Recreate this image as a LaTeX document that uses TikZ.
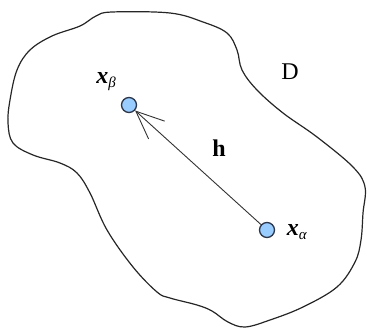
\documentclass[tikz,border=0pt]{standalone}
\usepackage{fontspec}
\setmainfont{Liberation Serif}
\usetikzlibrary{arrows.meta}
\definecolor{ptfill}{RGB}{153,204,255}
\definecolor{ptdraw}{RGB}{45,55,75}
\tikzset{
  pt/.style={circle, draw=ptdraw, fill=ptfill, line width=1.3pt, minimum size=15pt, inner sep=0pt},
  lbl/.style={inner sep=0pt, font=\fontsize{24}{28}\selectfont},
  blob/.style={draw=black!85, line width=1.2pt},
  vec/.style={draw=black!80, line width=0.9pt, -{Straight Barb[length=28pt,width=24pt]}}
}
\begin{document}
\begin{tikzpicture}[x=1pt,y=-1pt]
\useasboundingbox (0,0) rectangle (367,329);
\draw[blob] plot[smooth cycle, tension=0.6] coordinates {
 (112,12) (170,13) (203,22) (227,33) (237,50) (242,70) (257,90) (283,113) (317,137) (353,167)
 (365,187) (363,213) (361,240) (355,262) (337,287) (303,307) (270,320) (245,327) (228,322)
 (212,311) (197,305) (170,298) (157,292) (133,267) (107,230) (90,193) (77,173) (60,163)
 (33,155) (13,143) (8,123) (10,100) (17,70) (30,50) (52,36) (80,26) (96,16)};
\node[pt] (b) at (129,105) {};
\node[pt] (a) at (267,230) {};
\draw[vec] (a) -- (b);
\node[lbl] (lb) at (106,82) {\textbf{\textit{x}}\raisebox{-0.35ex}{\fontsize{15}{17}\selectfont\textit{β}}};
\node[lbl] (la) at (297,232) {\textbf{\textit{x}}\raisebox{-0.35ex}{\fontsize{15}{17}\selectfont\textit{α}}};
\node[lbl] (h) at (219,148) {\textbf{h}};
\node[lbl] (D) at (290,72) {D};
\end{tikzpicture}
\end{document}
